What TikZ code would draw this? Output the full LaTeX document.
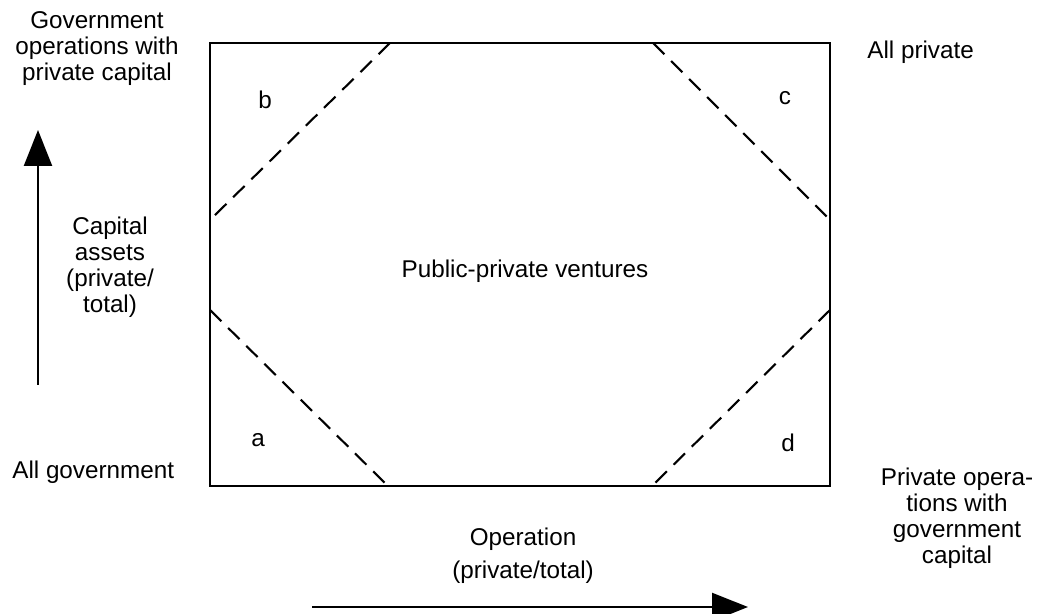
\documentclass[tikz,border=0pt]{standalone}
\usepackage{fontspec}
\setmainfont{Liberation Sans}
\usetikzlibrary{arrows.meta,positioning}

\begin{document}
\begin{tikzpicture}[x=0.02cm,y=-0.02cm,
    lbl/.style={align=center,inner sep=0pt,font=\fontsize{13.8}{14.8}\selectfont},
    frame/.style={line width=1.4pt},
    cut/.style={line width=1.2pt,dash pattern=on 0.32cm off 0.19cm},
    axis/.style={line width=1.3pt,-{Triangle[length=0.72cm,width=0.56cm]}},
  ]
  \useasboundingbox (0,0) rectangle (1037,614);

  % the square of ventures
  \coordinate (sw) at (210,486);
  \coordinate (ne) at (830,43);
  \draw[frame] (sw) rectangle (ne);

  \coordinate (bt) at (390,43);  \coordinate (bl) at (210,220);
  \coordinate (ct) at (653,43);  \coordinate (cr) at (830,220);
  \coordinate (al) at (210,310); \coordinate (ab) at (388,486);
  \coordinate (dr) at (830,310); \coordinate (db) at (652,486);
  \draw[cut] (bt) -- (bl);
  \draw[cut] (ct) -- (cr);
  \draw[cut] (al) -- (ab);
  \draw[cut] (dr) -- (db);

  \node[lbl] (a) at (258,440) {a};
  \node[lbl] (b) at (265,100) {b};
  \node[lbl] (c) at (785,98) {c};
  \node[lbl] (d) at (788,443) {d};
  \node[lbl] (pp) at (525,271) {Public-private ventures};

  % corner labels
  \node[lbl] (gov) at (97,49) {Government\\operations with\\private capital};
  \node[lbl,anchor=west] (allgov) at (12,472) {All government};
  \node[lbl,anchor=west] (allpriv) at (867,52) {All private};
  \node[lbl] (privop) at (957,518) {Private opera-\\tions with\\government\\capital};

  % axes
  \coordinate (y0) at (38,385);
  \coordinate (y1) at (38,130);
  \draw[axis] (y0) -- (y1);
  \node[lbl] (ylab) at (110,267) {Capital\\assets\\(private/\\total)};

  \coordinate (x0) at (312,607);
  \coordinate (x1) at (748,607);
  \draw[axis] (x0) -- (x1);
  \node[lbl] (xlab) at (523,556) {Operation\\[4pt](private/total)};
\end{tikzpicture}
\end{document}
